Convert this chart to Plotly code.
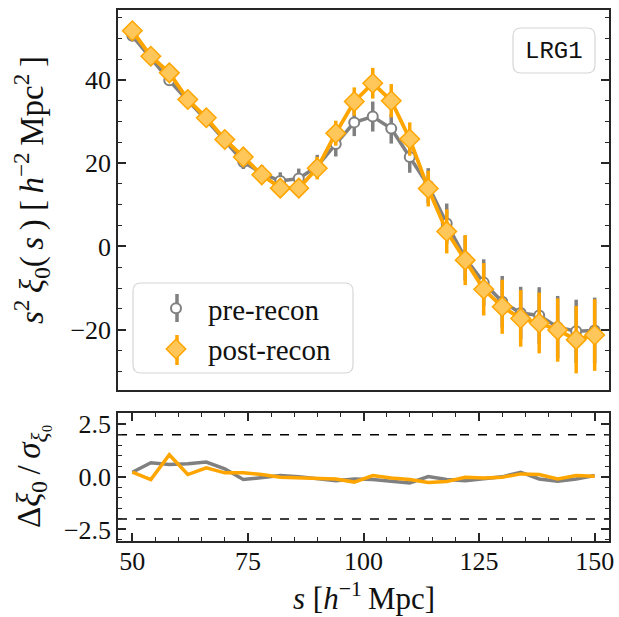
import plotly.graph_objects as go

# ---------------- data ----------------
s = [50, 54, 58, 62, 66, 70, 74, 78, 82, 86, 90, 94, 98, 102, 106, 110,
     114, 118, 122, 126, 130, 134, 138, 142, 146, 150]

pre_xi = [50.6, 45.3, 39.9, 35.0, 30.4, 25.4, 20.3, 17.6, 15.7, 16.3, 19.3,
          24.6, 29.8, 31.2, 28.3, 21.5, 14.6, 5.5, -2.8, -8.7, -13.3, -16.0,
          -16.6, -19.4, -20.4, -20.2]
pre_err = [1.2, 1.2, 1.3, 1.3, 1.4, 1.5, 1.7, 1.9, 2.1, 2.4, 2.7, 3.0, 3.3,
           3.6, 3.6, 3.8, 4.2, 4.8, 5.4, 5.6, 6.2, 6.3, 6.8, 7.5, 7.6, 7.9]

post_xi = [51.8, 45.7, 41.7, 35.3, 30.9, 25.7, 21.5, 17.2, 14.0, 14.0, 18.8,
           27.2, 34.8, 39.2, 35.0, 25.8, 13.9, 3.6, -3.3, -10.3, -14.5, -17.3,
           -18.4, -20.1, -22.4, -21.3]
post_err = [1.2, 1.2, 1.2, 1.3, 1.3, 1.4, 1.5, 1.7, 1.9, 2.0, 2.7, 3.0, 3.4,
            3.7, 4.0, 4.0, 4.3, 5.3, 6.0, 6.3, 6.5, 6.8, 7.3, 7.6, 8.1, 8.6]

pre_resid = [0.22, 0.67, 0.59, 0.62, 0.70, 0.38, -0.13, -0.05, 0.06, 0.01,
             -0.10, -0.18, -0.10, -0.13, -0.21, -0.29, 0.01, -0.13, -0.18,
             -0.10, 0.00, 0.22, -0.10, -0.21, -0.10, 0.06]
post_resid = [0.22, -0.13, 1.05, 0.11, 0.43, 0.19, 0.19, 0.11, -0.02, -0.05,
              -0.06, -0.10, -0.25, 0.06, -0.05, -0.13, -0.27, -0.22, -0.02,
              -0.05, -0.02, 0.14, 0.11, -0.10, 0.06, 0.03]

sigma_lines = [2.0, -2.0]
labels = ["pre-recon", "post-recon"]
tag = "LRG1"

# ---------------- style ----------------
GRAY = "#808080"
ORANGE = "#FFA500"
ORANGE_FILL = "#FFC75A"
AX = "#262626"
TXT = "#111111"
SERIF = "Liberation Serif, Times New Roman, serif"
MONO = "Liberation Mono, DejaVu Sans Mono, monospace"
TS = "\u2009"  # thin space

W, H = 619, 617
ML, MR, MT, MB = 118, 10, 10, 76
PW, PH = W - ML - MR, H - MT - MB


def px(x):
    return (x - ML) / PW


def py(y):
    return (H - MB - y) / PH


def rrect(x0, y0, x1, y1, r):
    X0, X1 = px(x0), px(x1)
    Y0, Y1 = py(y0), py(y1)  # Y0 top
    rx, ry = r / PW, r / PH
    return (f"M {X0+rx},{Y0} L {X1-rx},{Y0} Q {X1},{Y0} {X1},{Y0-ry} "
            f"L {X1},{Y1+ry} Q {X1},{Y1} {X1-rx},{Y1} L {X0+rx},{Y1} "
            f"Q {X0},{Y1} {X0},{Y1+ry} L {X0},{Y0-ry} Q {X0},{Y0} {X0+rx},{Y0} Z")


pre_marker = dict(symbol="circle", size=10, color="white",
                  line=dict(color=GRAY, width=2))
post_marker = dict(symbol="diamond", size=15, color=ORANGE_FILL,
                   line=dict(color=ORANGE, width=1.5))

fig = go.Figure()

# top panel
fig.add_trace(go.Scatter(
    x=s, y=pre_xi, mode="lines+markers", name=labels[0],
    line=dict(color=GRAY, width=3.5), marker=pre_marker,
    error_y=dict(type="data", array=pre_err, color=GRAY, thickness=3.5, width=0),
    xaxis="x", yaxis="y", showlegend=False))
fig.add_trace(go.Scatter(
    x=s, y=post_xi, mode="lines+markers", name=labels[1],
    line=dict(color=ORANGE, width=3.8), marker=post_marker,
    error_y=dict(type="data", array=post_err, color=ORANGE, thickness=3.5, width=0),
    xaxis="x", yaxis="y", showlegend=False))

# legend entries
fig.add_trace(go.Scatter(x=[None], y=[None], mode="markers", name=labels[0],
                         legendgroup="a", marker=pre_marker, xaxis="x", yaxis="y"))
fig.add_trace(go.Scatter(x=[None], y=[None], mode="markers", name=labels[1],
                         legendgroup="b", marker=post_marker, xaxis="x", yaxis="y"))

# bottom panel
fig.add_trace(go.Scatter(
    x=s, y=pre_resid, mode="lines", line=dict(color=GRAY, width=3.5),
    xaxis="x2", yaxis="y2", showlegend=False))
fig.add_trace(go.Scatter(
    x=s, y=post_resid, mode="lines", line=dict(color=ORANGE, width=3.5),
    xaxis="x2", yaxis="y2", showlegend=False))

shapes = []
for v in sigma_lines:
    shapes.append(dict(type="line", xref="x2 domain", yref="y2", x0=0, x1=1,
                       y0=v, y1=v, line=dict(color="black", width=1.5, dash="dash"),
                       layer="below"))
# LRG1 box and legend frame
shapes.append(dict(type="path", xref="paper", yref="paper",
                   path=rrect(513, 28, 595, 73, 8),
                   line=dict(color="#d6d6d6", width=1.2),
                   fillcolor="rgba(255,255,255,0.8)", layer="above"))
shapes.append(dict(type="path", xref="paper", yref="paper",
                   path=rrect(133, 283, 353, 373, 8),
                   line=dict(color="#d6d6d6", width=1.2),
                   fillcolor="rgba(255,255,255,0.8)", layer="above"))
# vertical error-bar glyphs under the legend markers
LEG_X = 177
shapes.append(dict(type="line", xref="paper", yref="paper",
                   x0=px(LEG_X), x1=px(LEG_X), y0=py(294), y1=py(322),
                   line=dict(color=GRAY, width=3.5), layer="above"))
shapes.append(dict(type="line", xref="paper", yref="paper",
                   x0=px(LEG_X), x1=px(LEG_X), y0=py(335), y1=py(365),
                   line=dict(color=ORANGE, width=3.5), layer="above"))

tickfont = dict(family=SERIF, size=26, color=TXT)
common_axis = dict(showline=True, linecolor=AX, linewidth=1.5, mirror="allticks",
                   ticks="inside", tickwidth=1.5, tickcolor=AX, ticklen=8,
                   showgrid=False, zeroline=False, tickfont=tickfont,
                   automargin=False)

ytitle_top = (f"<i>s</i><sup>2</sup>{TS}<i>ξ</i><sub>0</sub>({TS}<i>s</i>{TS}) "
              f"[{TS}<i>h</i><sup>−2</sup>{TS}Mpc<sup>2</sup>{TS}]")
ytitle_bot = f"Δ<i>ξ</i><sub>0</sub>{TS}/{TS}<i>σ</i><sub><i>ξ</i>₀</sub>"
xtitle = f"<i>s</i> [<i>h</i><sup>−1</sup>{TS}Mpc]"

fig.update_layout(
    width=W, height=H, plot_bgcolor="white", paper_bgcolor="white",
    margin=dict(l=ML, r=MR, t=MT, b=MB, autoexpand=False),
    showlegend=True,
    legend=dict(x=px(144), y=py(283), xanchor="left", yanchor="top",
                bgcolor="rgba(0,0,0,0)", borderwidth=0,
                font=dict(family=SERIF, size=29, color=TXT),
                tracegroupgap=0, itemwidth=54),
    xaxis=dict(domain=[0, 1], range=[46.9, 153.1], anchor="y",
               showticklabels=False, showline=True, linecolor=AX, linewidth=1.5,
               mirror=True, ticks="", showgrid=False, zeroline=False,
               automargin=False),
    yaxis=dict(domain=[py(390), 1], range=[-34.5, 56.8], anchor="x",
               tickvals=[-20, 0, 20, 40],
               minor=dict(ticks="inside", dtick=5, ticklen=4, tickwidth=1.2,
                          tickcolor=AX, showgrid=False),
               **common_axis),
    xaxis2=dict(domain=[0, 1], range=[46.9, 153.1], anchor="y2",
                tickvals=[50, 75, 100, 125, 150], ticklabelstandoff=-4,
                minor=dict(ticks="inside", dtick=5, tick0=50, ticklen=4, tickwidth=1.2,
                           tickcolor=AX, showgrid=False),
                **common_axis),
    yaxis2=dict(domain=[0, py(413.3)], range=[-3.05, 3.02], anchor="x2",
                tickvals=[-2.5, 0, 2.5], ticktext=["−2.5", "0.0", "2.5"],
                minor=dict(ticks="inside", dtick=0.5, tick0=0, ticklen=4, tickwidth=1.2,
                           tickcolor=AX, showgrid=False),
                **common_axis),
    shapes=shapes,
    annotations=[
        dict(text=tag, xref="paper", yref="paper", x=px(554), y=py(51),
             xanchor="center", yanchor="middle", showarrow=False,
             font=dict(family=MONO, size=24, color=TXT)),
        dict(text=ytitle_top, xref="paper", yref="paper", x=px(31), y=py(190),
             xanchor="center", yanchor="middle", textangle=-90, showarrow=False,
             font=dict(family=SERIF, size=33, color=TXT)),
        dict(text=ytitle_bot, xref="paper", yref="paper", x=px(31), y=py(476),
             xanchor="center", yanchor="middle", textangle=-90, showarrow=False,
             font=dict(family=SERIF, size=33, color=TXT)),
        dict(text=xtitle, xref="paper", yref="paper", x=px(364), y=py(596),
             xanchor="center", yanchor="middle", showarrow=False,
             font=dict(family=SERIF, size=31, color=TXT)),
    ],
)

fig.write_html("out.html", post_script="document.body.style.margin='0px';",
               config={"displayModeBar": False})
